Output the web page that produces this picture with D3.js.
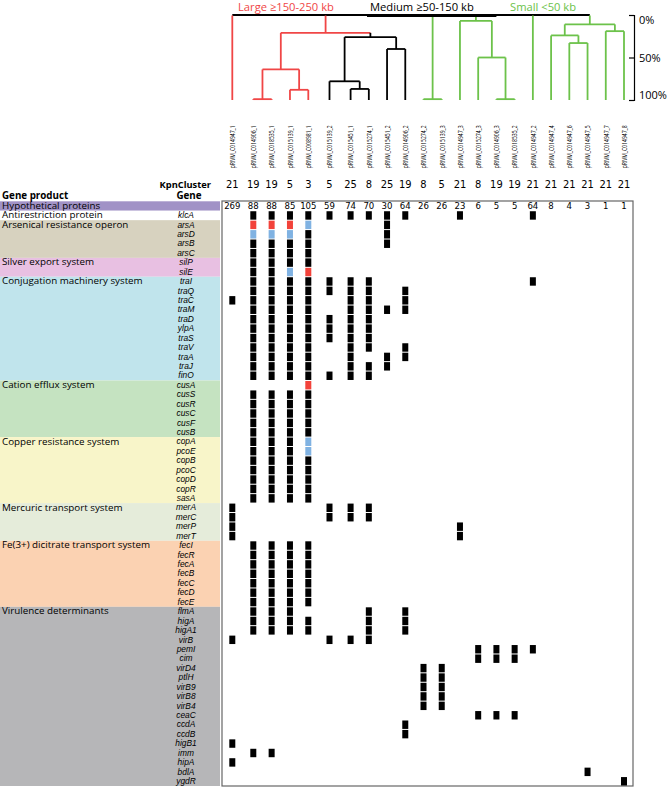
<!DOCTYPE html>
<html>
<head>
<meta charset="utf-8">
<script src="https://cdn.jsdelivr.net/npm/d3@7"></script>
<style>
body{margin:0;background:#fff}
text{font-family:"Open Sans",sans-serif}
</style>
</head>
<body>
<div id="chart"></div>
<script>
var plasmids = ["pRIVM_C014947_1","pRIVM_C014906_1","pRIVM_C018535_1","pRIVM_C015139_1","pRIVM_C008981_1","pRIVM_C015139_2","pRIVM_C015451_1","pRIVM_C015274_1","pRIVM_C015451_2","pRIVM_C014906_2","pRIVM_C015274_2","pRIVM_C015139_3","pRIVM_C014947_3","pRIVM_C015274_3","pRIVM_C014906_3","pRIVM_C018535_2","pRIVM_C014947_2","pRIVM_C014947_4","pRIVM_C014947_6","pRIVM_C014947_5","pRIVM_C014947_7","pRIVM_C014947_8"];
var kpnCluster = [21,19,19,5,3,5,25,8,25,19,8,5,21,8,19,19,21,21,21,21,21,21];
var hypothetical = [269,88,88,85,105,59,74,70,30,64,26,26,23,6,5,5,64,8,4,3,1,1];

var products = ["Hypothetical proteins","Antirestriction protein","Arsenical resistance operon","Silver export system","Conjugation machinery system","Cation efflux system","Copper resistance system","Mercuric transport system","Fe(3+) dicitrate transport system","Virulence determinants"];
var productColors = ["#a192c6","#ffffff","#d7d2bf","#e8c0e2","#c0e4ec","#c5e3c1","#f8f5c9","#e5ecda","#fbd2b2","#b6b6b8"];
var productGenes = [
  [""],
  ["klcA"],
  ["arsA","arsD","arsB","arsC"],
  ["silP","silE"],
  ["traI","traQ","traC","traM","traD","ylpA","traS","traV","traA","traJ","finO"],
  ["cusA","cusS","cusR","cusC","cusF","cusB"],
  ["copA","pcoE","copB","pcoC","copD","copR","sasA"],
  ["merA","merC","merP","merT"],
  ["fecI","fecR","fecA","fecB","fecC","fecD","fecE"],
  ["flmA","higA","higA1","virB","pemI","cim","virD4","ptlH","virB9","virB8","virB4","ceaC","ccdA","ccdB","higB1","imm","hipA","bdlA","ygdR"]
];

// one string per gene, one char per plasmid: x present, r / b coloured variants, . absent
var presence = {
  klcA:".xxxxxxxxx..x...x.....",
  arsA:".rrrb...x.............",
  arsD:".bbbx...x.............",
  arsB:".xxxx...x.............",
  arsC:".xxxx.................",
  silP:".xxxx.................",
  silE:".xxbr.................",
  traI:".xxxxxxx........x.....",
  traQ:".xxxxxxx.x............",
  traC:"xxxxx.xx.x............",
  traM:".xxxx.xxxx............",
  traD:".xxxxxxx..............",
  ylpA:".xxxxxxx..............",
  traS:".xxxxxxx..............",
  traV:".xxxx.xx.x............",
  traA:".xxxx.x.xx............",
  traJ:".xxxx.xxx.............",
  finO:".xxxxxxx..............",
  cusA:"....r.................",
  cusS:".xxxx.................",
  cusR:".xxxx.................",
  cusC:".xxxx.................",
  cusF:".xxxx.................",
  cusB:".xxxx.................",
  copA:".xxxb.................",
  pcoE:".xxxb.................",
  copB:".xxxx.................",
  pcoC:".xxxx.................",
  copD:".xxxx.................",
  copR:".xxxx.................",
  sasA:".xxxx.................",
  merA:"x....xxx..............",
  merC:"x....xxx..............",
  merP:"x...........x.........",
  merT:"x...........x.........",
  fecI:".xxxx.................",
  fecR:".xxxx.................",
  fecA:".xxxx.................",
  fecB:".xxxx.................",
  fecC:".xxxx.................",
  fecD:".xxxx.................",
  fecE:".xxxx.................",
  flmA:".xxx...x.x............",
  higA:".xxxx..x.x............",
  higA1:".xxxx..x.x............",
  virB:"x....xxx..............",
  pemI:".............xxxx.....",
  cim:".............xxx......",
  virD4:"..........xx..........",
  ptlH:"..........xx..........",
  virB9:"..........xx..........",
  virB8:"..........xx..........",
  virB4:"..........xx..........",
  ceaC:".............xxx......",
  ccdA:".........x............",
  ccdB:".........x............",
  higB1:"x.....................",
  imm:".xx...................",
  hipA:"x.....................",
  bdlA:"...................x..",
  ygdR:".....................x"
};
var cellColors = {x:"#000000", r:"#f2423a", b:"#80b2e2"};

// dendrogram merges: [left, right, height %, colour]; leaves 0-21, new nodes numbered from 22
var merges = [
  [1,2,99,"#f04646"],
  [3,4,88,"#f04646"],
  [22,23,64,"#f04646"],
  [6,7,87,"#000000"],
  [5,25,78,"#000000"],
  [8,9,40,"#000000"],
  [26,27,26,"#000000"],
  [24,28,21,"#f04646"],
  [10,11,99,"#6cc24a"],
  [14,15,99,"#6cc24a"],
  [13,31,50,"#6cc24a"],
  [12,32,7,"#6cc24a"],
  [18,19,33,"#6cc24a"],
  [17,34,24,"#6cc24a"],
  [20,21,19,"#6cc24a"],
  [35,36,11,"#6cc24a"]
];
var rootChildren = [0,29,30,33,16,37];
var leafColors = ["#f04646","#f04646","#f04646","#f04646","#f04646","#000000","#000000","#000000","#000000","#000000",
  "#6cc24a","#6cc24a","#6cc24a","#6cc24a","#6cc24a","#6cc24a","#6cc24a","#6cc24a","#6cc24a","#6cc24a","#6cc24a","#6cc24a"];
var groupTitles = ["Large \u2265150-250 kb","Medium \u226550-150 kb","Small <50 kb"];
var groupTitleColors = ["#f04646","#000000","#6cc24a"];

var svg = d3.select("#chart").append("svg")
  .attr("width",668)
  .attr("height",787);

// columns are not evenly spaced in the source table
var x = d3.scaleLinear().domain([0,1,4,5,6,21]).range([232.3,253.3,308.3,329.5,350.6,624]);

/* rows */
var rows = [];
products.forEach(function(p,i){
  productGenes[i].forEach(function(g,j){
    rows.push({product:p, gene:g, group:i, first:j==0});
  });
});
var y = d3.scaleBand().domain(d3.range(rows.length)).range([201.3,786]);
var bw = y.bandwidth();

/* left bands */
svg.selectAll("rect.band")
  .data(products)
  .enter()
  .append("rect")
  .attr("class","band")
  .attr("x",0)
  .attr("width",220)
  .attr("y",function(d,i){ return y(rows.findIndex(function(r){return r.group==i;})); })
  .attr("height",function(d,i){ return productGenes[i].length*bw; })
  .attr("fill",function(d,i){ return productColors[i]; });

svg.selectAll("text.product")
  .data(rows.filter(function(r){return r.first;}))
  .enter()
  .append("text")
  .attr("class","product")
  .attr("x",2)
  .attr("y",function(d){ return y(rows.indexOf(d))+7.5; })
  .attr("font-size","9.8px")
  .text(function(d){ return d.product; });

svg.selectAll("text.gene")
  .data(rows)
  .enter()
  .append("text")
  .attr("class","gene")
  .attr("x",186)
  .attr("y",function(d,i){ return y(i)+7.4; })
  .attr("text-anchor","middle")
  .attr("font-size","8.4px")
  .attr("font-style","italic")
  .style("font-family","'Liberation Sans',Arial,sans-serif")
  .text(function(d){ return d.gene; });

/* headers */
svg.append("text").attr("x",2).attr("y",198.5).attr("font-size","9.8px").attr("font-weight","bold").text("Gene product");
svg.append("text").attr("x",189).attr("y",198.5).attr("text-anchor","middle").attr("font-size","9.8px").attr("font-weight","bold").text("Gene");
svg.append("text").attr("x",211).attr("y",187.5).attr("text-anchor","end").attr("font-size","9.3px").attr("font-weight","bold").text("KpnCluster");

svg.selectAll("text.kpn")
  .data(kpnCluster)
  .enter()
  .append("text")
  .attr("class","kpn")
  .attr("x",function(d,i){ return x(i); })
  .attr("y",188.3)
  .attr("text-anchor","middle")
  .attr("font-size","11px")
  .style("font-family","'Liberation Sans Narrow','DejaVu Sans Condensed',sans-serif")
  .text(function(d){ return d; });

svg.selectAll("text.plasmid")
  .data(plasmids)
  .enter()
  .append("text")
  .attr("class","plasmid")
  .attr("transform",function(d,i){ return "translate("+x(i)+",168.3) rotate(-90)"; })
  .attr("dy","0.35em")
  .attr("font-size","8px")
  .attr("textLength",43)
  .attr("lengthAdjust","spacingAndGlyphs")
  .text(function(d){ return d; });

/* grid */
svg.append("rect")
  .attr("x",222).attr("y",201).attr("width",411).attr("height",585)
  .attr("fill","#fff").attr("stroke","#666").attr("stroke-width",1.2);

svg.selectAll("text.count")
  .data(hypothetical)
  .enter()
  .append("text")
  .attr("class","count")
  .attr("x",function(d,i){ return x(i); })
  .attr("y",y(0)+7.6)
  .attr("text-anchor","middle")
  .attr("font-size","9.5px")
  .style("font-family","'Liberation Sans Narrow','DejaVu Sans Condensed',sans-serif")
  .text(function(d){ return d; });

var cells = [];
rows.forEach(function(r,i){
  if(!presence[r.gene]) return;
  presence[r.gene].split("").forEach(function(c,j){
    if(c!=".") cells.push({row:i, col:j, kind:c});
  });
});
svg.selectAll("rect.cell")
  .data(cells)
  .enter()
  .append("rect")
  .attr("class","cell")
  .attr("x",function(d){ return x(d.col)-3; })
  .attr("width",6)
  .attr("y",function(d){ return y(d.row)+0.5; })
  .attr("height",bw-1)
  .attr("fill",function(d){ return cellColors[d.kind]; });

/* dendrogram */
var h = d3.scaleLinear().domain([0,100]).range([15,100]);
var nodes = plasmids.map(function(p,i){ return {x:x(i), y:h(100), c:leafColors[i]}; });
merges.forEach(function(m){
  nodes.push({x:(nodes[m[0]].x+nodes[m[1]].x)/2, y:h(m[2]), c:m[3], kids:[m[0],m[1]]});
});
var segs = [];
nodes.forEach(function(n){
  if(!n.kids) return;
  segs.push({x1:nodes[n.kids[0]].x, x2:nodes[n.kids[1]].x, y1:n.y, y2:n.y, c:n.c});
  n.kids.forEach(function(k){
    segs.push({x1:nodes[k].x, x2:nodes[k].x, y1:n.y, y2:nodes[k].y, c:nodes[k].c});
  });
});
var rootX = rootChildren.map(function(k){ return nodes[k].x; });
segs.push({x1:d3.min(rootX), x2:d3.max(rootX), y1:h(0), y2:h(0), c:"#000"});
rootChildren.forEach(function(k){
  segs.push({x1:nodes[k].x, x2:nodes[k].x, y1:h(0)+0.5, y2:nodes[k].y, c:nodes[k].c});
});
// thick bar marking the medium group at the top
segs.push({x1:x(6.9), x2:x(14), y1:h(0)+0.8, y2:h(0)+0.8, c:"#000", w:2.6});

svg.selectAll("line.dendro")
  .data(segs)
  .enter()
  .append("line")
  .attr("class","dendro")
  .attr("x1",function(d){return d.x1;})
  .attr("x2",function(d){return d.x2;})
  .attr("y1",function(d){return d.y1;})
  .attr("y2",function(d){return d.y2;})
  .attr("stroke",function(d){return d.c;})
  .attr("stroke-width",function(d){return d.w||1.8;});

var titleX = [238,370,510];
svg.selectAll("text.gtitle")
  .data(groupTitles)
  .enter()
  .append("text")
  .attr("class","gtitle")
  .attr("x",function(d,i){ return titleX[i]; })
  .attr("y",10.5)
  .attr("font-size","11.2px")
  .attr("fill",function(d,i){ return groupTitleColors[i]; })
  .text(function(d){ return d; });

var axis = svg.append("g")
  .attr("transform","translate(634,0)")
  .call(d3.axisRight(h).tickValues([0,50,100]).tickSize(-5).tickPadding(5)
    .tickFormat(function(d){ return d+"%"; }));
axis.select(".domain").attr("stroke","#000").attr("stroke-width",1.2);
axis.selectAll(".tick line").attr("stroke","#000").attr("stroke-width",1.2);
axis.selectAll(".tick text")
  .attr("font-size","11px")
  .attr("font-family","'Open Sans',sans-serif")
  .attr("dy",function(d){ return d==0 ? "0.75em" : (d==100 ? "-0.1em" : "0.32em"); });
</script>
</body>
</html>
